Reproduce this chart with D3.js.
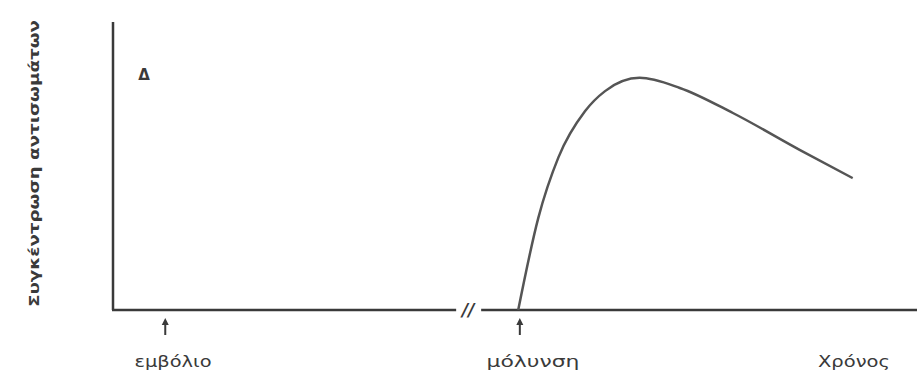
<!DOCTYPE html>
<html>
<head>
<meta charset="utf-8">
<script src="https://cdn.jsdelivr.net/npm/d3@7"></script>
<style>
  body { margin: 0; background: #fff; }
  svg { display: block; }
  text { font-family: "DejaVu Sans", sans-serif; fill: #3a3a3a; }
</style>
</head>
<body>
<svg width="917" height="376"></svg>
<script>
// time in arbitrary units, concentration in arbitrary units
const curveTime = [50.4, 52.9, 55.4, 58.7, 61.2, 65.5, 70.5, 77.1, 85.4, 92.0];
const curveConc = [0, 32, 53, 69, 76, 80.6, 77.1, 68.4, 55.6, 45.8];
const eventNames = ['εμβόλιο', 'μόλυνση'];
const eventTimes = [6.5, 50.6];
const breakTime = 43.8;
const xTitle = 'Χρόνος';
const yTitle = 'Συγκέντρωση αντισωμάτων';
const panelLabel = 'Δ';

const svg = d3.select('svg');
const x = d3.scaleLinear().domain([0, 100]).range([113, 917]);
const y = d3.scaleLinear().domain([0, 100]).range([310, 22]);
const ink = '#3a3a3a';

// y axis
svg.append('line')
    .attr('x1', x(0)).attr('x2', x(0))
    .attr('y1', y(100)).attr('y2', y(0))
    .attr('stroke', ink).attr('stroke-width', 2.5);

// x axis with a break
svg.append('line')
    .attr('x1', x(0) - 1).attr('x2', x(breakTime) - 9)
    .attr('y1', y(0)).attr('y2', y(0))
    .attr('stroke', ink).attr('stroke-width', 2.5);
svg.append('line')
    .attr('x1', x(breakTime) + 16).attr('x2', x(100))
    .attr('y1', y(0)).attr('y2', y(0))
    .attr('stroke', ink).attr('stroke-width', 2.5);
svg.append('text')
    .attr('x', x(breakTime) + 3).attr('y', y(0) + 6)
    .attr('text-anchor', 'middle')
    .attr('font-size', 17).attr('font-style', 'italic').attr('font-weight', 'bold')
    .text('//');

// event arrows
const ev = svg.selectAll('g.event')
    .data(eventNames.map((n, i) => ({ name: n, t: eventTimes[i] })))
    .enter().append('g').attr('class', 'event');
ev.append('line')
    .attr('x1', d => x(d.t)).attr('x2', d => x(d.t))
    .attr('y1', 322).attr('y2', 335)
    .attr('stroke', ink).attr('stroke-width', 2);
ev.append('path')
    .attr('d', d => 'M' + (x(d.t) - 3.5) + ',325L' + x(d.t) + ',318L' + (x(d.t) + 3.5) + ',325Z')
    .attr('fill', ink);
const labelCenter = [173, 533];
const labelWidth = [77, 93];
ev.append('text')
    .attr('x', (d, i) => labelCenter[i] - labelWidth[i] / 2).attr('y', 367)
    .attr('font-size', 15)
    .attr('textLength', (d, i) => labelWidth[i])
    .attr('lengthAdjust', 'spacingAndGlyphs')
    .text(d => d.name);

svg.append('text')
    .attr('x', 818).attr('y', 367)
    .attr('font-size', 15)
    .attr('textLength', 72)
    .attr('lengthAdjust', 'spacingAndGlyphs')
    .text(xTitle);

svg.append('text')
    .attr('transform', 'translate(39,307) rotate(-90)')
    .attr('font-size', 14).attr('font-weight', 'bold')
    .attr('textLength', 287)
    .attr('lengthAdjust', 'spacingAndGlyphs')
    .text(yTitle);

svg.append('text')
    .attr('x', 144).attr('y', 80)
    .attr('text-anchor', 'middle')
    .attr('font-size', 15).attr('font-weight', 'bold')
    .text(panelLabel);

// antibody curve
const line = d3.line()
    .x(d => x(d[0]))
    .y(d => y(d[1]))
    .curve(d3.curveMonotoneX);
svg.append('path')
    .datum(curveTime.map((t, i) => [t, curveConc[i]]))
    .attr('d', line)
    .attr('fill', 'none')
    .attr('stroke', '#555')
    .attr('stroke-width', 2.5);
</script>
</body>
</html>
